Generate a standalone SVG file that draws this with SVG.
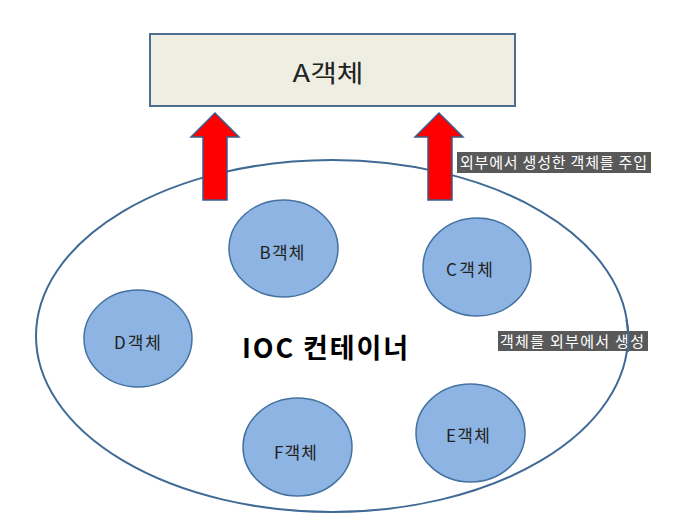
<svg xmlns="http://www.w3.org/2000/svg" width="681" height="519" viewBox="0 0 681 519">
<style>
.obj{fill:#8DB4E2;stroke:#4472A0;stroke-width:1.5}
.lbl{font-family:"Noto Sans CJK KR","Noto Sans",sans-serif;font-size:17px;fill:#222;text-anchor:middle}
.arrow{fill:#FF0000;stroke:#385D8A;stroke-width:1.5}
.note rect{fill:#595959}
.note text{font-family:"Noto Sans CJK KR",sans-serif;font-size:15px;fill:#fff}
</style>
<rect width="681" height="519" fill="#fff"/>
<g id="A">
<rect x="150" y="34" width="365" height="72" fill="#EEEEE2" stroke="#4F6D8F" stroke-width="2"/>
<text x="328" y="82" font-family="Noto Sans CJK KR,sans-serif" font-size="24" fill="#222" text-anchor="middle" textLength="71" lengthAdjust="spacingAndGlyphs">A객체</text>
</g>
<g id="container">
<ellipse cx="332" cy="336" rx="296" ry="176" fill="none" stroke="#3F6A95" stroke-width="2"/>
<text x="325" y="358" font-family="Noto Sans CJK KR,sans-serif" font-size="27" font-weight="bold" fill="#000" text-anchor="middle" textLength="166" lengthAdjust="spacing">IOC 컨테이너</text>
</g>
<g id="connectors">
<polygon class="arrow" points="215,113 239,137 227,137 227,200 203,200 203,137 191,137"/>
<polygon class="arrow" points="439,113 463,137 452,137 452,200 428,200 428,137 415,137"/>
</g>
<g id="B"><ellipse class="obj" cx="283.5" cy="248.5" rx="54.5" ry="48.5"/><text class="lbl" x="282" y="259" textLength="45">B객체</text></g>
<g id="C"><ellipse class="obj" cx="477" cy="267" rx="54" ry="49"/><text class="lbl" x="469.5" y="276" textLength="47">C객체</text></g>
<g id="D"><ellipse class="obj" cx="138" cy="338.5" rx="54" ry="48.5"/><text class="lbl" x="137.5" y="349" textLength="47">D객체</text></g>
<g id="F"><ellipse class="obj" cx="297.5" cy="447" rx="54.5" ry="49"/><text class="lbl" x="295.5" y="459" textLength="43">F객체</text></g>
<g id="E"><ellipse class="obj" cx="470.5" cy="433" rx="54.5" ry="49"/><text class="lbl" x="468" y="442" textLength="44">E객체</text></g>
<g id="note1" class="note"><rect x="457" y="152" width="194" height="21"/><text x="460" y="168" textLength="187" lengthAdjust="spacing">외부에서 생성한 객체를 주입</text></g>
<g id="note2" class="note"><rect x="498" y="331" width="150" height="20"/><text x="500" y="347" textLength="144" lengthAdjust="spacing">객체를 외부에서 생성</text></g>
<path d="M626.5,320 A296,176 0 0 1 627.8,352" fill="none" stroke="#3F6A95" stroke-width="2"/>
</svg>
